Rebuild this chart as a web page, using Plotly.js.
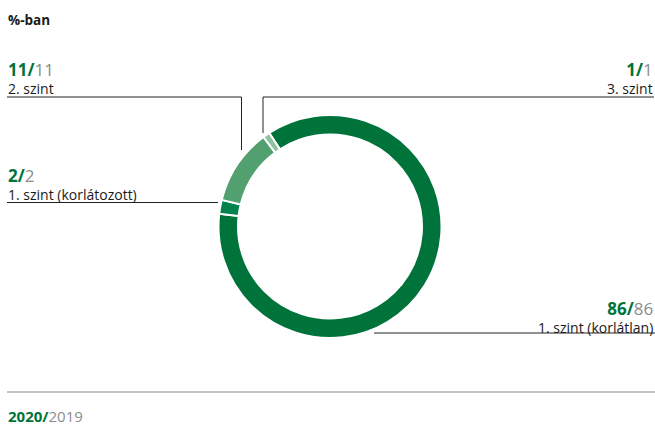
<!DOCTYPE html>
<html>
<head>
<meta charset="utf-8">
<script src="https://cdn.plot.ly/plotly-3.0.1.min.js"></script>
<style>html,body{margin:0;padding:0;background:#fff;}#chart{width:655px;height:425px;}</style>
</head>
<body>
<div id="chart"></div>
<script>
const categories = ["1. szint (korlátlan)", "1. szint (korlátozott)", "2. szint", "3. szint"];
const values2020 = [86, 2, 11, 1];
const values2019 = [86, 2, 11, 1];
const sliceColors = ["#00733a", "#00834c", "#52a070", "#8cc49f"];
const yearCurrent = "2020";
const yearPrevious = "2019";

const W = 655, H = 425;
const px = x => x / W;
const py = y => 1 - y / H;
const GREEN = "#00733a", GREY = "#8c8c8c", FONT = "Open Sans, Noto Sans, sans-serif";

function valText(i) {
  return "<span style='font-size:17px'><b><span style='color:" + GREEN + "'>" + values2020[i] + "/</span></b><span style='color:" + GREY + "'>" + values2019[i] + "</span></span>";
}

// label placements (index, x, anchor, centre y of the two-line block)
const placements = [
  {i: 2, x: 6, anchor: "left", y: 78},
  {i: 3, x: 655, anchor: "right", y: 77.5},
  {i: 1, x: 6, anchor: "left", y: 183.5},
  {i: 0, x: 655, anchor: "right", y: 317}
];

const annotations = [];
placements.forEach(p => {
  annotations.push({xref: "paper", yref: "paper", x: px(p.x), y: py(p.y), xanchor: p.anchor, yanchor: "middle",
    align: p.anchor, text: valText(p.i) + "<br>" + categories[p.i], showarrow: false,
    font: {family: FONT, size: 14, color: "#1a1a1a"}});
});
annotations.push({xref: "paper", yref: "paper", x: px(6), y: py(20), xanchor: "left", yanchor: "middle",
  text: "<b>%-ban</b>", showarrow: false, font: {family: FONT, size: 13.5, color: "#1a1a1a"}});
annotations.push({xref: "paper", yref: "paper", x: px(6), y: py(416), xanchor: "left", yanchor: "middle",
  text: "<b><span style='color:" + GREEN + "'>" + yearCurrent + "/</span></b><span style='color:" + GREY + "'>" + yearPrevious + "</span>",
  showarrow: false, font: {family: FONT, size: 15}});

function seg(x0, y0, x1, y1, color) {
  return {type: "line", xref: "paper", yref: "paper", x0: px(x0), y0: py(y0), x1: px(x1), y1: py(y1),
    line: {color: color || "#222", width: 1}};
}
const shapes = [
  seg(7, 97, 241.5, 97), seg(241.5, 97, 241.5, 150),
  seg(654, 97, 263, 97), seg(263, 97, 263, 133),
  seg(7, 202.5, 218, 202.5),
  seg(374, 333, 655, 333),
  seg(7, 392, 655, 392, "#888")
];

const cx = 330, cy = 226.5, r = 111.5;
const data = [{
  type: "pie",
  values: values2020,
  labels: categories,
  sort: false,
  direction: "clockwise",
  rotation: -33,
  hole: 0.825,
  marker: {colors: sliceColors, line: {color: "#fff", width: 2}},
  textinfo: "none",
  hoverinfo: "label+value",
  showlegend: false,
  domain: {x: [px(cx - r), px(cx + r)], y: [py(cy + r), py(cy - r)]}
}];

const layout = {
  width: W, height: H,
  margin: {l: 0, r: 0, t: 0, b: 0},
  paper_bgcolor: "#fff",
  showlegend: false,
  annotations: annotations,
  shapes: shapes
};

Plotly.newPlot("chart", data, layout, {displayModeBar: false, staticPlot: true});
</script>
</body>
</html>
